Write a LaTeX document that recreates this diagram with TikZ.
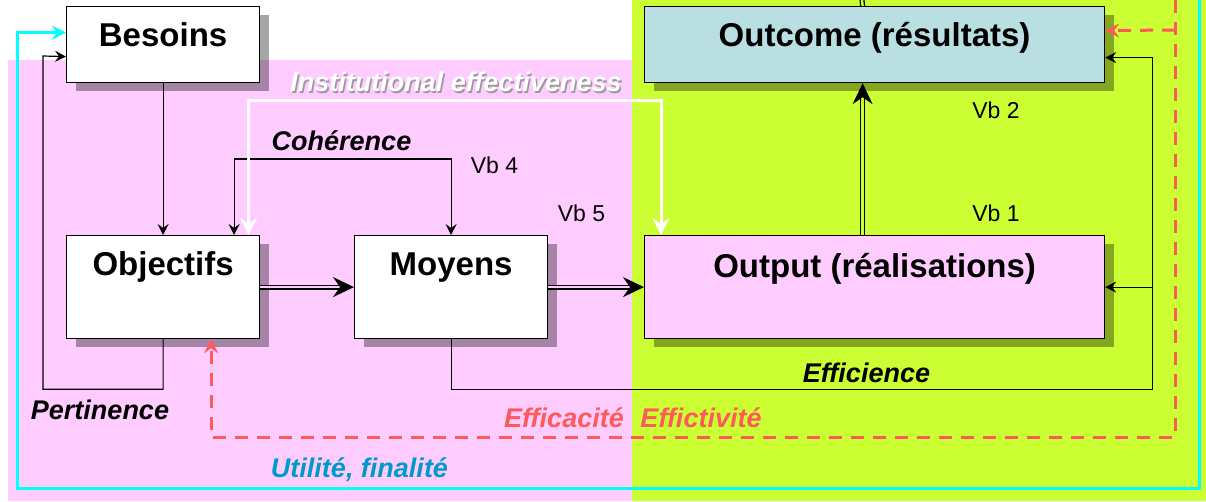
\documentclass[tikz,border=0pt]{standalone}
\usepackage{fontspec}
\setmainfont{Liberation Sans}
\usetikzlibrary{arrows.meta,shadows,calc}
\definecolor{pinkbg}{HTML}{FFCCFF}
\definecolor{greenbg}{HTML}{CCFF33}
\definecolor{outcomefill}{HTML}{B9DFE2}
\definecolor{cyanline}{HTML}{00FFFF}
\definecolor{reddash}{HTML}{FF5A5A}
\definecolor{utilblue}{HTML}{0099CC}
\definecolor{shadowgray}{HTML}{9A9A9A}
\begin{document}
\begin{tikzpicture}[x=1pt,y=-1pt,
  box/.style={draw=black, line width=1.2pt, inner sep=0pt, anchor=north west,
    text height=40pt, font=\fontsize{33}{36}\selectfont\bfseries,
    drop shadow={shadow xshift=9pt, shadow yshift=-8pt, fill=black, opacity=0.35}},
  smallbox/.style={box, minimum width=193pt},
  bigbox/.style={box, minimum width=460pt},
  lab/.style={inner sep=0pt, text height=19.5pt, text depth=0pt,
    font=\fontsize{27}{30}\selectfont\bfseries\itshape},
  vb/.style={inner sep=0pt, text height=16.5pt, text depth=0pt,
    font=\fontsize{23}{26}\selectfont},
  thin/.style={draw=black, line width=1.2pt},
  sarr/.style={thin, -{Stealth[length=11pt,width=11pt,inset=4pt]}},
  sarrboth/.style={thin, {Stealth[length=11pt,width=11pt,inset=4pt]}-{Stealth[length=11pt,width=11pt,inset=4pt]}},
  dbl/.style={draw=black, line width=1.3pt, double distance=2.5pt},
  bigarr/.style={dbl, -{Stealth[length=21pt,width=20pt,inset=7pt]}},
  cyanarr/.style={draw=cyanline, line width=3pt, -{Stealth[length=14pt,width=14pt,inset=5pt]}},
  redarr/.style={draw=reddash, line width=3pt, dash pattern=on 13pt off 9pt,
    -{Stealth[length=14pt,width=14pt,inset=5pt,fill=reddash,sep=0pt]}},
  whitearr/.style={draw=white, line width=3pt,
    {Stealth[length=17pt,width=17pt,inset=6pt]}-{Stealth[length=17pt,width=17pt,inset=6pt]}}
]
\useasboundingbox (0,0) rectangle (1206,501);
% backgrounds
\fill[white] (0,0) rectangle (1206,501);
\fill[pinkbg] (8,60) rectangle (632,501);
\fill[greenbg] (632,0) rectangle (1206,501);

% boxes
\node[smallbox, fill=white, text depth=36pt] (bes) at (66,6) {Besoins};
\node[bigbox, fill=outcomefill, text depth=36pt] (outc) at (644,6) {Outcome (résultats)};
\node[smallbox, fill=white, text depth=63pt] (obj) at (66,235) {Objectifs};
\node[smallbox, fill=white, text depth=63pt] (moy) at (354,235) {Moyens};
\node[bigbox, fill=pinkbg, text height=42pt, text depth=61pt] (outp) at (644,235) {Output (réalisations)};

% free ends
\coordinate (cyanstart) at (1199,0);
\coordinate (redtop) at (1175,0);
\coordinate (redbranch) at (1175,30);
\coordinate (outtop) at (862,0);

% connectors
\draw[sarr] (bes.south) -- (obj.north);
\draw[sarr] (obj.south) -- ++(0,50) -| (43,56) -- ([yshift=-12pt]bes.west);
\draw[sarrboth] ([xshift=71pt]obj.north) |- (342,159) -| (moy.north);
\draw[sarr] (moy.south) -- ++(0,50) -| ([xshift=47pt,yshift=-13pt]outc.east) -- ([yshift=-13pt]outc.east);
\draw[sarr] ([xshift=47pt]outp.east) -- (outp.east);

\draw[bigarr, double=pinkbg] (obj.east) -- (moy.west);
\draw[bigarr, double=pinkbg] (moy.east) -- (outp.west);
\draw[bigarr, double=greenbg] ([xshift=-12pt]outp.north) -- ([xshift=-12pt]outc.south);
\draw[dbl, double=greenbg] ([xshift=-12pt]outc.north) -- (outtop);

\draw[whitearr] ([xshift=85.5pt]obj.north) |- (450,100) -| ([xshift=17pt]outp.north west);

\draw[cyanarr] (cyanstart) -- (1199,488) -- (17,488) |- ([yshift=12pt]bes.west);

\draw[redarr] (redtop) -- (1175,437) -| ([xshift=48pt]obj.south);
\draw[redarr] (redbranch) -- ([yshift=14pt]outc.east);

% labels
\node[lab, text=shadowgray] (instsh) at (457.5,83.5) {Institutional effectiveness};
\node[lab, text=white] (inst) at (456,82) {Institutional effectiveness};
\node[lab] (coh) at (341.5,141) {Cohérence};
\node[vb] (vb4) at (494.5,165) {Vb 4};
\node[vb] (vb5) at (581.5,213) {Vb 5};
\node[vb] (vb2) at (996,110) {Vb 2};
\node[vb] (vb1) at (996,213) {Vb 1};
\node[lab] (effi) at (866.5,373) {Efficience};
\node[lab] (pert) at (100,410) {Pertinence};
\node[lab, text=reddash] (effa) at (564,418) {Efficacité};
\node[lab, text=reddash] (effc) at (701,418) {Effictivité};
\node[lab, text=utilblue] (util) at (359.5,468) {Utilité, finalité};
\end{tikzpicture}
\end{document}
